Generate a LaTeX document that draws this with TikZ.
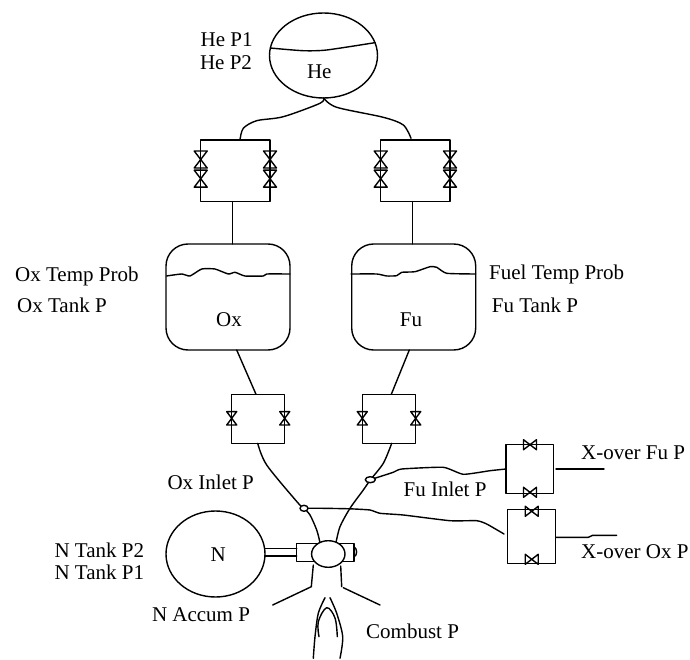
\documentclass[tikz,border=0pt]{standalone}
\usepackage{fontspec}
\setmainfont{Liberation Serif}
\usetikzlibrary{arrows.meta,calc,positioning,shapes.geometric}
\tikzset{
  pipe/.style={line width=1.4pt,line cap=round,line join=round},
  tag/.style={font=\fontsize{21}{25}\selectfont,inner sep=0pt},
  ovaltank/.style={ellipse,draw,pipe,inner sep=0pt,outer sep=0pt},
  roundtank/.style={rectangle,draw,pipe,rounded corners=22pt,inner sep=0pt,outer sep=0pt,minimum width=124pt,minimum height=106pt},
  valvebox/.style={rectangle,draw,pipe,inner sep=0pt,outer sep=0pt},
  sensor/.style={ellipse,draw,pipe,fill=white,inner sep=0pt,outer sep=0pt},
  pics/valvev/.style={code={\draw[pipe] (-6.5,-8.5)--(6.5,-8.5)--(-6.5,8.5)--(6.5,8.5)--cycle;}},
  pics/valvevs/.style={code={\draw[pipe] (-5,-6.7)--(5,-6.7)--(-5,6.7)--(5,6.7)--cycle;}},
  pics/valveh/.style={code={\draw[pipe] (-6.5,-5)--(-6.5,5)--(6.5,-5)--(6.5,5)--cycle;}},
}

\begin{document}
\begin{tikzpicture}[x=1pt,y=-1pt]
  \useasboundingbox (0,0) rectangle (690,660);
  % tanks
  \node[ovaltank,minimum width=108pt,minimum height=85pt] (heTank) at (323.5,55.5) {};
  \node[roundtank] (oxTank) at (228,297) {};
  \node[roundtank] (fuTank) at (413.7,297) {};
  \node[ovaltank,minimum width=99pt,minimum height=86pt] (nTank) at (215.5,554) {};
  % valve boxes
  \node[valvebox,minimum width=69.3pt,minimum height=61.7pt] (heBoxL) at (235.35,170.85) {};
  \node[valvebox,minimum width=69.3pt,minimum height=61.7pt] (heBoxR) at (415.35,170.85) {};
  \node[valvebox,minimum width=53pt,minimum height=49pt] (oxBox) at (258.2,418.8) {};
  \node[valvebox,minimum width=53.4pt,minimum height=49pt] (fuBox) at (389,418.8) {};
  \node[valvebox,minimum width=47.3pt,minimum height=48.6pt] (xFuBox) at (529.65,469) {};
  \node[valvebox,minimum width=48pt,minimum height=54pt] (xOxBox) at (531.7,536.3) {};
  % liquid levels
  \draw[pipe] plot[smooth,tension=0.4] coordinates {(heTank.172) (303,50.7) (326.7,50) (heTank.14)};
  \draw[pipe] plot[smooth,tension=0.3] coordinates {(166.5,276) (181.7,274) (190,276) (201.7,269) (215,269) (228.3,274) (235,272.3) (245,276) (263.3,276) (266.7,274) (oxTank.east |- 0,274)};
  \draw[pipe] plot[smooth,tension=0.3] coordinates {(351,274) (376.7,274) (386.7,276) (396.7,275.7) (401.7,272.3) (415,271.7) (430,266.7) (436.7,267.3) (446.7,273.3) (fuTank.east |- 0,274)};
  % helium lines
  \coordinate (heSplit) at (heTank.south);
  \coordinate (heStemL) at (232.7,201);
  \coordinate (heStemR) at (412.7,201);
  \draw[pipe] plot[smooth,tension=0.5] coordinates {(heSplit) (320,103.3) (283.3,116.7) (256.7,120.7) (243.3,128.3) (240,140)};
  \draw[pipe] plot[smooth,tension=0.5] coordinates {(heSplit) (336.7,107.3) (383.3,117.3) (403.3,125) (411,138.3)};
  \draw[pipe] (heBoxL.south -| heStemL) -- (oxTank.north -| heStemL);
  \draw[pipe] (heBoxR.south -| heStemR) -- (fuTank.north -| heStemR);
  % feed lines
  \coordinate (oxOut) at (236.7,350); \coordinate (oxIn) at (256,394.3);
  \coordinate (fuOut) at (409.3,350); \coordinate (fuIn) at (391.3,394.3);
  \draw[pipe] (oxOut) -- (oxIn);
  \draw[pipe] (fuOut) -- (fuIn);
  \coordinate (oxSensorAt) at (304,508.3);
  \coordinate (fuSensorAt) at (370.3,479.7);
  \coordinate (oxEngine) at (320,542.7); \coordinate (fuEngine) at (336,542.7);
  \draw[pipe] plot[smooth,tension=0.5] coordinates {(257.7,443.3) (266.7,465) (298.3,503.3) (oxSensorAt)};
  \draw[pipe] plot[smooth,tension=0.5] coordinates {(oxSensorAt) (310,515) (316.7,530) (oxEngine)};
  \draw[pipe] plot[smooth,tension=0.5] coordinates {(391.7,443.3) (383.3,463.3) (fuSensorAt)};
  \draw[pipe] plot[smooth,tension=0.5] coordinates {(fuSensorAt) (363.3,490) (350,508.3) (340,526.7) (fuEngine)};
  % cross-over lines
  \draw[pipe] plot[smooth,tension=0.3] coordinates {(fuSensorAt) (393.3,472.3) (401.7,469) (443.3,467.3) (463.3,474.3) (490,470.7) (xFuBox.west)};
  \draw[pipe] plot[smooth,tension=0.3] coordinates {(oxSensorAt) (323.3,508.3) (350,508.8) (370,510) (380,513.3) (403.3,515) (450,520.7) (476.7,520.7) (486.7,524) (504,534)};
  \coordinate (xFuEnd) at (604,469);
  \coordinate (xOxEnd) at (616.7,535.3);
  \draw[pipe] ($(xFuBox.east)+(2.7,0)$) -- (xFuEnd);
  \draw[pipe] (xOxBox.east |- 0,537.3) -- (588.3,537.3) -- (592.7,535.3) -- (xOxEnd);
  \node[sensor,minimum width=8pt,minimum height=6pt] (oxSensor) at (oxSensorAt) {};
  \node[sensor,minimum width=10pt,minimum height=6pt] (fuSensor) at (fuSensorAt) {};
  % engine
  \node[valvebox,minimum width=57.3pt,minimum height=18.4pt] (nBody) at (325.35,552.5) {};
  \draw[pipe] ($(nTank.east)+(0,-5.7)$) -- ++(31.7,0);
  \draw[pipe] ($(nTank.east)+(0,2)$) -- ++(31.7,0);
  \draw[pipe] (354,546.7) .. controls (357.5,549) and (357.5,555) .. (354,557);
  \node[sensor,minimum width=33.4pt,minimum height=26.6pt] (valveCore) at (328.3,554) {};
  \draw[pipe] (313.3,565) -- (311.3,586.7) -- (272.7,605);
  \draw[pipe] (340.7,566) -- (341.7,586.7);
  \draw[pipe] (343.3,587.7) -- (380,605);
  % flame
  \draw[pipe] plot[smooth,tension=0.5] coordinates {(313.3,658.3) (315,636.7) (318.3,613.3) (325,597.7)};
  \draw[pipe] plot[smooth,tension=0.5] coordinates {(340,658.3) (342.7,636.7) (336.7,613.3) (330,597.7)};
  \draw[pipe] plot[smooth,tension=0.6] coordinates {(319,636.7) (318.3,621.7) (326.7,607.7) (335,618) (337.3,636.7)};
  % valves
  \foreach \vx in {200.7,270,380.7,450} {
    \pic at (\vx,159.5) {valvev};
    \pic at (\vx,178.7) {valvev};
  }
  \foreach \vx in {231.7,284.7,362.3,415.7} {
    \pic at (\vx,418.3) {valvevs};
  }
  \foreach \vx/\vy in {530/444.7,530/492.3,531.7/511.3,531.7/559.3} {
    \pic at (\vx,\vy) {valveh};
  }
  % labels
  \node[tag] (heName) at (319.3,71.7) {He};
  \node[tag] (oxName) at (229,319.3) {Ox};
  \node[tag] (fuName) at (411,319.3) {Fu};
  \node[tag] (nName) at (218.3,554.3) {N};
  \node[tag] (heP1) at (226.7,40) {He P1};
  \node[tag] (heP2) at (226,62.7) {He P2};
  \node[tag,anchor=west] (oxTemp) at (15,276.7) {Ox Temp Prob};
  \node[tag,anchor=west] (oxTankP) at (17,305) {Ox Tank P};
  \node[tag,anchor=west] (fuTemp) at (489,274) {Fuel Temp Prob};
  \node[tag,anchor=west] (fuTankP) at (491.7,305) {Fu Tank P};
  \node[tag] (oxInlet) at (210.7,482.3) {Ox Inlet P};
  \node[tag] (fuInlet) at (445,489.3) {Fu Inlet P};
  \node[tag,anchor=west] (xFuP) at (581,452.7) {X-over Fu P};
  \node[tag,anchor=west] (xOxP) at (581,552) {X-over Ox P};
  \node[tag] (nP2) at (99.3,550) {N Tank P2};
  \node[tag] (nP1) at (99.3,572) {N Tank P1};
  \node[tag] (nAccum) at (201,615) {N Accum P};
  \node[tag,anchor=west] (combust) at (366,631) {Combust P};
\end{tikzpicture}
\end{document}
